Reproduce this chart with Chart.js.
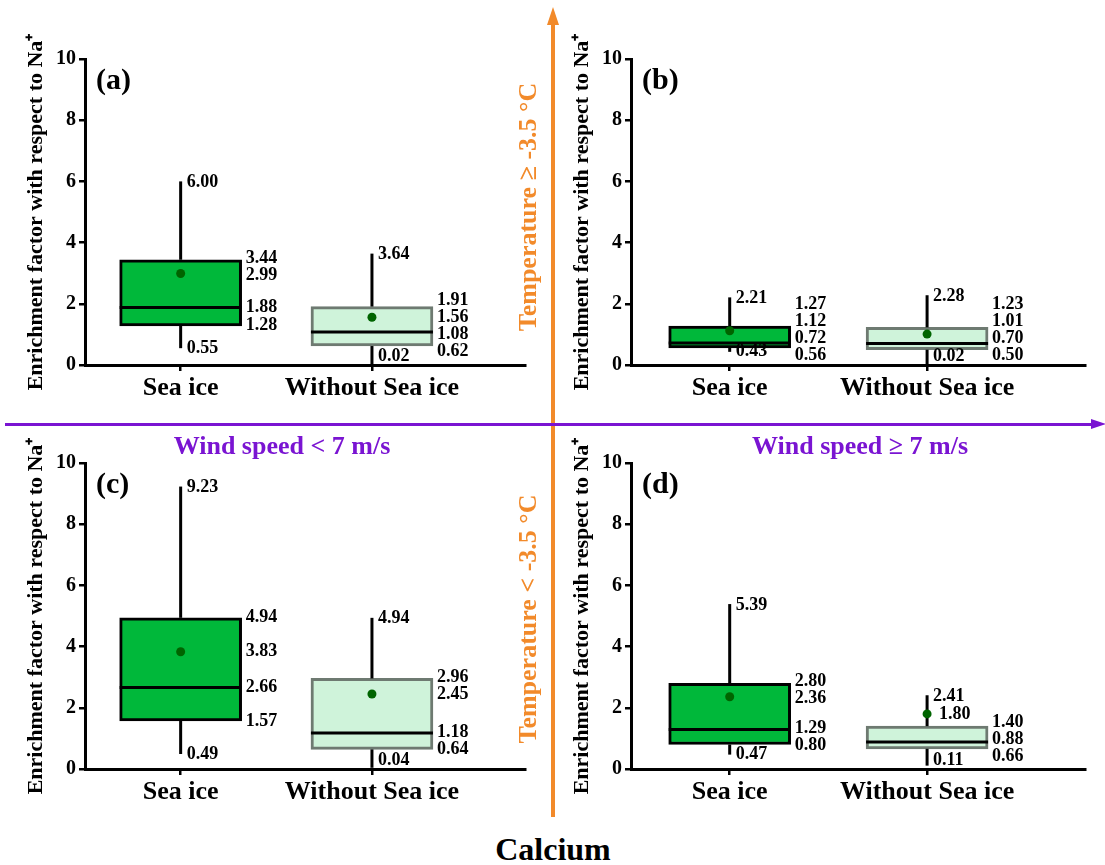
<!DOCTYPE html>
<html>
<head>
<meta charset="utf-8">
<title>Calcium enrichment factor</title>
<script src="https://cdn.jsdelivr.net/npm/chart.js@4.4.1/dist/chart.umd.min.js"></script>
<style>
  body { margin: 0; background: #fff; }
  #page {
    position: relative;
    width: 1105px;
    height: 865px;
    overflow: hidden;
    font-family: 'Liberation Serif', 'Times New Roman', serif;
    font-weight: bold;
  }
  .panel { position: absolute; height: 415px; }
  .panel canvas { display: block; }
  .note { position: absolute; white-space: nowrap; z-index: 5; }
  .temp { color: #F28A2A; font-size: 26px; line-height: 26px; transform: translate(-50%, -50%) rotate(-90deg); }
  .wind { color: #7A14D2; font-size: 26px; line-height: 26px; transform: translateX(-50%); }
  .arrow { position: absolute; z-index: 4; }
</style>
</head>
<body>
<div id="page">
  <div class="panel" style="left:0;top:0;width:545px"><canvas id="panelA"></canvas></div>
  <div class="panel" style="left:546px;top:0;width:559px"><canvas id="panelB"></canvas></div>
  <div class="panel" style="left:0;top:404px;width:545px"><canvas id="panelC"></canvas></div>
  <div class="panel" style="left:546px;top:404px;width:559px"><canvas id="panelD"></canvas></div>

  <!-- axes of the 2x2 layout -->
  <div class="arrow" style="left:551px;top:22px;width:3.5px;height:795px;background:#F28A2A"></div>
  <div class="arrow" style="left:546.5px;top:7px;width:0;height:0;border-left:6.5px solid transparent;border-right:6.5px solid transparent;border-bottom:18px solid #F28A2A"></div>
  <div class="arrow" style="left:5px;top:422.5px;width:1088px;height:3.5px;background:#7A14D2"></div>
  <div class="arrow" style="left:1091px;top:419px;width:0;height:0;border-top:5.5px solid transparent;border-bottom:5.5px solid transparent;border-left:15px solid #7A14D2"></div>

  <div class="note temp" style="left:528px;top:207px">Temperature ≥ -3.5 °C</div>
  <div class="note temp" style="left:528px;top:619px">Temperature &lt; -3.5 °C</div>
  <div class="note wind" style="left:282px;top:433px">Wind speed &lt; 7 m/s</div>
  <div class="note wind" style="left:860px;top:433px">Wind speed ≥ 7 m/s</div>
  <div class="note" style="left:553px;top:833px;font-size:32px;line-height:32px;transform:translateX(-50%)">Calcium</div>
</div>

<script>
// categories on the x axis
const categories = ['Sea ice', 'Without Sea ice'];
const panelTags = ['(a)', '(b)', '(c)', '(d)'];
const yTicks = [0, 2, 4, 6, 8, 10];

// one row per panel (a..d), one value per category: [sea ice, without sea ice]
const lowWhisker = [[0.55, 0.02], [0.43, 0.02], [0.49, 0.04], [0.47, 0.11]];
const lowerQuartile = [[1.28, 0.62], [0.56, 0.50], [1.57, 0.64], [0.80, 0.66]];
const medians = [[1.88, 1.08], [0.72, 0.70], [2.66, 1.18], [1.29, 0.88]];
const means = [[2.99, 1.56], [1.12, 1.01], [3.83, 2.45], [2.36, 1.80]];
const upperQuartile = [[3.44, 1.91], [1.27, 1.23], [4.94, 2.96], [2.80, 1.40]];
const highWhisker = [[6.00, 3.64], [2.21, 2.28], [9.23, 4.94], [5.39, 2.41]];

const serif = "'Liberation Serif', 'Times New Roman', serif";
Chart.defaults.font.family = serif;
Chart.defaults.font.weight = 'bold';
Chart.defaults.color = '#000';

const fmt = (v) => v.toFixed(2);

// push overlapping labels apart, keeping each cluster centred on its values
function spreadLabels(items, gap, maxY) {
  items.sort((a, b) => a.y - b.y);
  let groups = items.map((it) => ({ items: [it], center: it.y }));
  let merged = true;
  while (merged) {
    merged = false;
    for (let i = 0; i < groups.length - 1; i++) {
      const g1 = groups[i];
      const g2 = groups[i + 1];
      const bottom1 = g1.center + (g1.items.length - 1) * gap / 2;
      const top2 = g2.center - (g2.items.length - 1) * gap / 2;
      if (top2 - bottom1 < gap) {
        const all = g1.items.concat(g2.items);
        const center = all.reduce((s, it) => s + it.y, 0) / all.length;
        groups.splice(i, 2, { items: all, center });
        merged = true;
        break;
      }
    }
  }
  const out = [];
  groups.forEach((g) => {
    const start = g.center - (g.items.length - 1) * gap / 2;
    g.items.forEach((it, k) => out.push({ v: it.v, y: start + k * gap }));
  });
  for (let k = out.length - 1; k >= 0; k--) {
    const limit = k === out.length - 1 ? maxY : out[k + 1].y - gap;
    out[k].y = Math.min(out[k].y, limit);
  }
  return out;
}

const boxPlotPlugin = {
  id: 'boxPlot',
  // whiskers and median go on top of the boxes but under the mean dots
  afterDatasetDraw(chart, args, opts) {
    if (args.index !== 0) return;
    const p = opts.panel;
    const { ctx } = chart;
    const { x, y } = chart.scales;
    ctx.save();
    ctx.strokeStyle = '#000';
    ctx.lineWidth = 3;
    const line = (x1, y1, x2, y2) => {
      ctx.beginPath();
      ctx.moveTo(x1, y1);
      ctx.lineTo(x2, y2);
      ctx.stroke();
    };
    args.meta.data.forEach((bar, i) => {
      const cx = x.getPixelForValue(i + 1);
      const half = bar.width / 2;
      line(cx, y.getPixelForValue(upperQuartile[p][i]), cx, y.getPixelForValue(highWhisker[p][i]));
      line(cx, y.getPixelForValue(lowWhisker[p][i]), cx, y.getPixelForValue(lowerQuartile[p][i]));
      const ym = y.getPixelForValue(medians[p][i]);
      line(cx - half, ym, cx + half, ym);
    });
    ctx.restore();
  },
  afterDatasetsDraw(chart, args, opts) {
    const p = opts.panel;
    const { ctx, chartArea } = chart;
    const { x, y } = chart.scales;
    const axisY = y.getPixelForValue(0);
    const bars = chart.getDatasetMeta(0).data;
    ctx.save();
    ctx.fillStyle = '#000';
    ctx.font = 'bold 18px ' + serif;
    ctx.textAlign = 'left';
    ctx.textBaseline = 'middle';
    categories.forEach((c, i) => {
      const cx = x.getPixelForValue(i + 1);
      const right = cx + bars[i].width / 2;
      ctx.fillText(fmt(highWhisker[p][i]), cx + 6, y.getPixelForValue(highWhisker[p][i]) + 1);
      ctx.fillText(fmt(lowWhisker[p][i]), cx + 6, Math.min(y.getPixelForValue(lowWhisker[p][i]), axisY - 9));

      const side = [upperQuartile[p][i], medians[p][i], lowerQuartile[p][i]];
      const m = means[p][i];
      if (m >= lowerQuartile[p][i] && m <= upperQuartile[p][i]) {
        side.push(m);
      } else {
        ctx.fillText(fmt(m), cx + 12, y.getPixelForValue(m));
      }
      spreadLabels(side.map((v) => ({ v, y: y.getPixelForValue(v) })), 17, axisY - 10)
        .forEach((it) => ctx.fillText(fmt(it.v), right + 4, it.y));
    });
    ctx.font = 'bold 30px ' + serif;
    ctx.textBaseline = 'alphabetic';
    ctx.fillText(panelTags[p], chartArea.left + 11, chartArea.top + 30);
    ctx.restore();
  }
};

function buildPanel(canvasId, p) {
  const boxes = categories.map((c, i) => ({ x: i + 1, y: [lowerQuartile[p][i], upperQuartile[p][i]] }));
  const dots = categories.map((c, i) => ({ x: i + 1, y: means[p][i] }));

  return new Chart(document.getElementById(canvasId), {
    type: 'bar',
    data: {
      datasets: [
        {
          type: 'bar',
          data: boxes,
          backgroundColor: ['#00B83A', '#CFF3DA'],
          borderColor: ['#000000', '#6E7A71'],
          borderWidth: 3,
          borderSkipped: false,
          barThickness: 122,
          order: 2
        },
        {
          type: 'scatter',
          data: dots,
          backgroundColor: '#006400',
          borderColor: '#006400',
          borderWidth: 0,
          pointRadius: 4.5,
          order: 1
        }
      ]
    },
    options: {
      responsive: true,
      maintainAspectRatio: false,
      animation: false,
      layout: { padding: { top: 59, right: 20, left: 0, bottom: 0 } },
      plugins: {
        legend: { display: false },
        tooltip: { enabled: false },
        boxPlot: { panel: p }
      },
      scales: {
        x: {
          type: 'linear',
          min: 0.5,
          max: 2.8,
          offset: false,
          afterBuildTicks: (scale) => {
            scale.ticks = categories.map((c, i) => ({ value: i + 1 }));
          },
          afterFit: (scale) => { scale.height = 50; },
          ticks: {
            autoSkip: false,
            maxRotation: 0,
            padding: 2,
            font: { size: 26, weight: 'bold' },
            callback: (value) => categories[value - 1] || ''
          },
          grid: { offset: false, drawOnChartArea: false, tickLength: 6, lineWidth: 2.5, color: '#000' },
          border: { display: true, width: 3, color: '#000' }
        },
        y: {
          min: 0,
          max: 10,
          afterBuildTicks: (scale) => {
            scale.ticks = yTicks.map((v) => ({ value: v }));
          },
          afterFit: (scale) => { scale.width = 85; },
          ticks: { padding: 3, font: { size: 20, weight: 'bold' } },
          grid: { drawOnChartArea: false, tickLength: 6, lineWidth: 2.5, color: '#000' },
          border: { display: true, width: 3, color: '#000' },
          title: {
            display: true,
            text: 'Enrichment factor with respect to Na⁺',
            font: { size: 22, weight: 'bold' },
            padding: { top: 23, bottom: 0 }
          }
        }
      }
    },
    plugins: [boxPlotPlugin]
  });
}

document.addEventListener('DOMContentLoaded', () => {
  ['panelA', 'panelB', 'panelC', 'panelD'].forEach((id, p) => buildPanel(id, p));
});
</script>
</body>
</html>
